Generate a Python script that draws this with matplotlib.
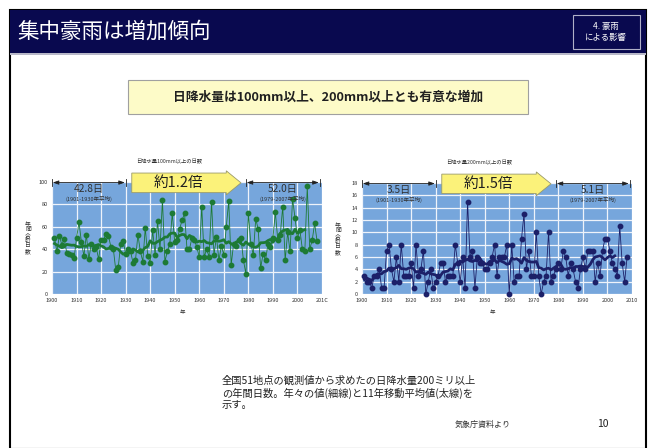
import numpy as np
import pandas as pd
import matplotlib.pyplot as plt
from matplotlib.patches import Rectangle, Polygon

plt.rcParams['font.family'] = ['Noto Sans CJK JP', 'DejaVu Sans']

W, H = 653, 448

years = list(range(1901, 2009))

# annual number of days with daily precipitation >= 100 mm
days_100 = [50, 38, 52, 44, 49, 37, 36, 35, 32, 50,
            64, 46, 34, 53, 31, 45, 40, 42, 31, 48,
            48, 54, 52, 42, 40, 21, 24, 45, 47, 36,
            40, 38, 28, 30, 53, 38, 29, 59, 34, 28,
            57, 35, 65, 40, 84, 29, 38, 45, 72, 46,
            48, 58, 66, 72, 40, 40, 50, 48, 42, 33,
            78, 33, 40, 33, 82, 35, 51, 30, 43, 35,
            60, 83, 26, 45, 43, 48, 50, 30, 18, 72,
            45, 35, 67, 58, 23, 36, 30, 45, 42, 50,
            73, 48, 53, 78, 30, 55, 38, 85, 68, 50,
            57, 40, 38, 96, 40, 48, 63, 47]

# annual number of days with daily precipitation >= 200 mm
days_200 = [3, 2, 2, 1, 3, 3, 4, 1, 1, 7,
            8, 4, 2, 6, 2, 8, 3, 3, 3, 5,
            1, 8, 3, 4, 7, 0, 2, 4, 1, 2,
            3, 5, 5, 2, 3, 3, 3, 8, 5, 2,
            6, 1, 15, 6, 7, 1, 6, 5, 5, 4,
            4, 5, 6, 8, 3, 6, 6, 6, 8, 0,
            8, 2, 3, 3, 9, 13, 4, 7, 3, 3,
            10, 3, 0, 2, 3, 10, 2, 3, 4, 5,
            4, 7, 6, 3, 5, 4, 2, 1, 4, 6,
            4, 7, 7, 7, 2, 5, 3, 7, 9, 9,
            7, 5, 4, 3, 11, 5, 2, 6]

titles = ['日降水量100mm以上の日数', '日降水量200mm以上の日数']
early_avg = ['42.8日', '3.5日']
late_avg = ['52.0日', '5.1日']
ratios = ['約1.2倍', '約1.5倍']
ymax = [100, 18]
ystep = [20, 2]
line_colors = ['#1d7a35', '#1c2068']
xtick_years = list(range(1900, 2011, 10))


def fx(x):
    return x / W


def fy(y):
    return 1 - y / H


def box(x0, y0, x1, y1, **kw):
    # rectangle given in pixel coords (top-left origin), drawn behind the axes
    kw.setdefault('zorder', -5)
    r = Rectangle((fx(x0), fy(y1)), fx(x1 - x0), fy(y0) - fy(y1), transform=fig.transFigure, **kw)
    fig.patches.append(r)
    return r


fig = plt.figure(figsize=(W / 100, H / 100), dpi=100)

# slide frame and header
box(10, 10, 646, 449, facecolor='white', edgecolor='black', lw=1.5, zorder=-10)
box(10, 10, 646, 53, facecolor='#09094f', edgecolor='none')
box(10, 53, 646, 55, facecolor='#b8b8c8', edgecolor='none')
fig.text(fx(17), fy(32), '集中豪雨は増加傾向', color='white', fontsize=15.5, va='center', ha='left')
box(573, 15, 640, 49, facecolor='none', edgecolor='#b0b0c8', lw=0.8)
fig.text(fx(606), fy(32), '4. 豪雨\nによる影響', color='white', fontsize=6, va='center', ha='center',
         linespacing=1.3)

# headline box
box(128, 80, 528, 114, facecolor='#fdfbc8', edgecolor='#a0a0a0', lw=0.8)
fig.text(fx(328), fy(97), '日降水量は100mm以上、200mm以上とも有意な増加', fontsize=9.2,
         ha='center', va='center', color='#202020', fontweight='bold')

panels = [(52, 182, 270, 112, 28), (362, 183, 270, 111, 338)]
series = [days_100, days_200]

for i, (x0, y0, w, h, ylab_x) in enumerate(panels):
    ax = fig.add_axes([fx(x0), fy(y0 + h), fx(w), fy(y0) - fy(y0 + h)])
    ax.set_facecolor('#76a6dc')
    ax.set_xlim(1900, 2010)
    ax.set_ylim(0, ymax[i])
    ax.set_xticks(xtick_years)
    ax.set_yticks(np.arange(0, ymax[i] + 1, ystep[i]))
    ax.grid(True, color='#eef3fa', lw=0.9)
    ax.set_axisbelow(True)
    for s in ax.spines.values():
        s.set_visible(False)
    ax.tick_params(length=0, labelsize=4, colors='#333333', pad=3)
    tl = [str(y) for y in xtick_years]
    if i == 0:
        tl[-1] = '201C'
    ax.set_xticklabels(tl)

    s = pd.Series(series[i], index=years)
    ma = s.rolling(11, center=True, min_periods=6).mean().loc[:2003]
    c = line_colors[i]
    ax.plot(s.index, s.values, color=c, lw=0.6, marker='o', ms=3.2, mec=c, mfc=c, clip_on=False)
    ax.plot(ma.index, ma.values, color=c, lw=2.0)

    top = ymax[i]
    # averaging period arrows
    for (a, b, lab, per) in [(1900, 1930, early_avg[i], '(1901-1930年平均)'),
                             (1979, 2009, late_avg[i], '(1979-2007年平均)')]:
        ax.plot([a, a], [top * 0.96, top * 1.03], color='#202020', lw=0.6, clip_on=False)
        ax.plot([b, b], [top * 0.96, top * 1.03], color='#202020', lw=0.6, clip_on=False)
        ax.annotate('', xy=(b - 0.3, top * 0.995), xytext=(a + 0.3, top * 0.995),
                    arrowprops=dict(arrowstyle='<|-|>,head_length=0.35,head_width=0.12',
                                    color='#202020', lw=0.6, shrinkA=0, shrinkB=0),
                    annotation_clip=False)
        ax.text((a + b) / 2, top * 0.935, lab, fontsize=7.3, ha='center', va='center', color='#303030')
        ax.text((a + b) / 2, top * 0.845, per, fontsize=4, ha='center', va='center', color='#303030')

    # ratio arrow
    yb, yt = top * 0.905, top * 1.08
    pad = top * 0.02
    poly = Polygon([(1932.5, yb), (1971, yb), (1971, yb - pad), (1977, (yb + yt) / 2),
                    (1971, yt + pad), (1971, yt), (1932.5, yt)],
                   closed=True, facecolor='#fbf27a', edgecolor='#9a9a6a', lw=0.6, clip_on=False)
    ax.add_patch(poly)
    ax.text(1951.5, (yb + yt) / 2, ratios[i], fontsize=10.5, ha='center', va='center', color='#202020')

    fig.text(fx(x0 + w / 2 - 18), fy(y0 - 20), titles[i], fontsize=3.8, ha='center', va='center',
             color='#303030')
    fig.text(fx(ylab_x), fy(y0 + 56), '\n'.join('年間合計日数'), fontsize=4.2, ha='center', va='center',
             color='#303030', linespacing=1.05)
    fig.text(fx(x0 + w / 2 - 5), fy(312), '年', fontsize=4, ha='center', va='center', color='#303030')

fig.text(fx(222), fy(393), '全国51地点の観測値から求めたの日降水量200ミリ以上\n'
         'の年間日数。年々の値(細線)と11年移動平均値(太線)を\n示す。',
         fontsize=7.4, ha='left', va='center', color='#202020', linespacing=1.2)
fig.text(fx(455), fy(424), '気象庁資料より', fontsize=5.8, ha='left', va='center', color='#303030')
fig.text(fx(597), fy(424), '10', fontsize=7.5, ha='left', va='center', color='#202020')

fig.savefig('out.png', dpi=100)
